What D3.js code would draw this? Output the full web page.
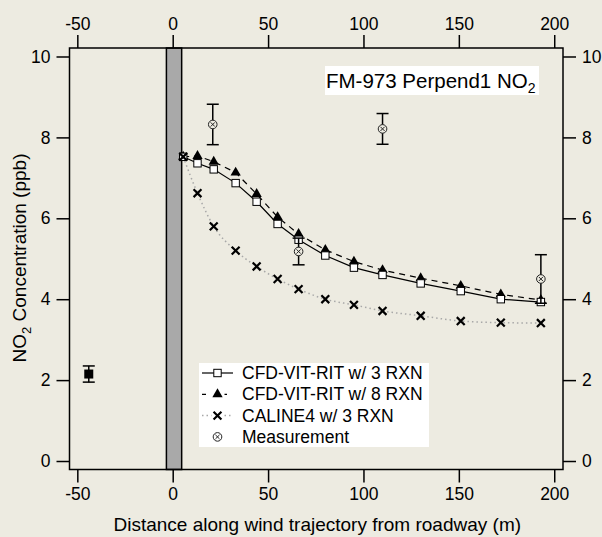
<!DOCTYPE html>
<html lang="en">
<head>
    <meta charset="UTF-8">
    <script src="https://d3js.org/d3.v7.min.js"></script>
    <title>NO2 Perpend1</title>
    <style>
      body{ margin:0; background:#EDEBE1; }
      svg{ display:block; font-family:"Liberation Sans", Arial, sans-serif; }
      .axis path, .axis line{ stroke:#000; stroke-width:1.5px; }
      .axis text{ font-size:17.5px; fill:#000; }
    </style>
</head>
<body>
    <svg id="myGraph" width="602" height="537"></svg>
</body>
<script>
    // distances (m) for model runs
    var distModel = [5.5, 13, 21.5, 33, 44, 55, 66, 80, 95, 110, 130, 151, 172, 193];
    var cfd3 = [7.52, 7.36, 7.21, 6.87, 6.41, 5.86, 5.47, 5.08, 4.78, 4.60, 4.39, 4.20, 4.00, 3.93];
    var cfd8 = [7.52, 7.54, 7.40, 7.13, 6.60, 6.03, 5.61, 5.22, 4.93, 4.72, 4.52, 4.33, 4.12, 3.98];
    var caline = [7.52, 6.62, 5.80, 5.20, 4.81, 4.50, 4.25, 4.00, 3.86, 3.71, 3.59, 3.46, 3.42, 3.41];

    // measurements
    var distMeas = [21, 66, 110, 193];
    var meas = [8.32, 5.18, 8.21, 4.50];
    var measErr = [0.50, 0.33, 0.38, 0.60];
    var upwindDist = [-44];
    var upwind = [2.15];
    var upwindErr = [0.2];

    var roadway = [-3.3, 4.7];
    var xTicks = [-50, 0, 50, 100, 150, 200];
    var yTicks = [0, 2, 4, 6, 8, 10];

    var legendLabels = ["CFD-VIT-RIT w/ 3 RXN", "CFD-VIT-RIT w/ 8 RXN", "CALINE4 w/ 3 RXN", "Measurement"];

    var pLeft = 69.5, pRight = 563, pTop = 48, pBottom = 469.5;

    var xScale = d3.scaleLinear()
    .domain([-54.1, 204.6])
    .range([pLeft, pRight]);
    var yScale = d3.scaleLinear()
    .domain([-0.21, 10.21])
    .range([pBottom, pTop]);

    var svg = d3.select("#myGraph");
    var fmt = function(d){ return String(d); };

    svg.append("rect")
    .attr("width", 602).attr("height", 537)
    .attr("fill", "#EDEBE1");

    // roadway bar
    svg.append("rect")
    .attr("x", xScale(roadway[0]))
    .attr("y", pTop)
    .attr("width", xScale(roadway[1]) - xScale(roadway[0]))
    .attr("height", pBottom - pTop)
    .attr("fill", "#A9A9A9")
    .attr("stroke", "#000")
    .attr("stroke-width", 1.5);

    // axes
    function noDomain(g){ g.select(".domain").remove(); }
    svg.append("g").attr("class","axis")
    .attr("transform","translate(0,"+pBottom+")")
    .call(d3.axisBottom(xScale).tickValues(xTicks).tickFormat(fmt).tickSize(13).tickPadding(5))
    .call(noDomain);
    svg.append("g").attr("class","axis")
    .attr("transform","translate(0,"+pTop+")")
    .call(d3.axisTop(xScale).tickValues(xTicks).tickFormat(fmt).tickSize(13).tickPadding(5))
    .call(noDomain);
    svg.append("g").attr("class","axis")
    .attr("transform","translate("+pLeft+",0)")
    .call(d3.axisLeft(yScale).tickValues(yTicks).tickFormat(fmt).tickSize(13).tickPadding(6))
    .call(noDomain);
    svg.append("g").attr("class","axis")
    .attr("transform","translate("+pRight+",0)")
    .call(d3.axisRight(yScale).tickValues(yTicks).tickFormat(fmt).tickSize(13).tickPadding(6))
    .call(noDomain);

    svg.append("rect")
    .attr("x", pLeft).attr("y", pTop)
    .attr("width", pRight - pLeft).attr("height", pBottom - pTop)
    .attr("fill", "none").attr("stroke", "#000").attr("stroke-width", 1.5);

    // lines
    function pts(ys){ return distModel.map(function(d,i){ return [d, ys[i]]; }); }
    var line = d3.line()
    .x(function(d){ return xScale(d[0]); })
    .y(function(d){ return yScale(d[1]); });

    svg.append("path")
    .attr("d", line.curve(d3.curveMonotoneX)(pts(caline)))
    .attr("fill","none").attr("stroke","#A8A8A8").attr("stroke-width",1.5)
    .attr("stroke-dasharray","1.5,3");
    svg.append("path")
    .attr("d", line.curve(d3.curveLinear)(pts(cfd8)))
    .attr("fill","none").attr("stroke","#000").attr("stroke-width",1.2)
    .attr("stroke-dasharray","6,5");
    svg.append("path")
    .attr("d", line.curve(d3.curveLinear)(pts(cfd3)))
    .attr("fill","none").attr("stroke","#000").attr("stroke-width",1.2);

    // markers
    var tri = d3.symbol().type(d3.symbolTriangle).size(46);
    var cross = d3.symbol().type(d3.symbolX).size(42);

    svg.append("g").selectAll("path")
    .data(pts(cfd8)).enter().append("path")
    .attr("d", tri)
    .attr("transform", function(d){ return "translate("+xScale(d[0])+","+yScale(d[1])+")"; })
    .attr("fill","#000");

    svg.append("g").selectAll("rect")
    .data(pts(cfd3)).enter().append("rect")
    .attr("x", function(d){ return xScale(d[0]) - 3.7; })
    .attr("y", function(d){ return yScale(d[1]) - 3.7; })
    .attr("width", 7.4).attr("height", 7.4)
    .attr("fill","#fff").attr("stroke","#000").attr("stroke-width",1);

    svg.append("g").selectAll("path")
    .data(pts(caline)).enter().append("path")
    .attr("d", cross)
    .attr("transform", function(d){ return "translate("+xScale(d[0])+","+yScale(d[1])+")"; })
    .attr("fill","none").attr("stroke","#000").attr("stroke-width",2.2);

    // measurement error bars
    function errBars(xs, ys, es){
      var g = svg.append("g").attr("stroke","#000").attr("stroke-width",1.5);
      xs.forEach(function(d,i){
        var cx = xScale(d);
        g.append("line").attr("x1",cx).attr("x2",cx)
        .attr("y1",yScale(ys[i]+es[i])).attr("y2",yScale(ys[i]-es[i]));
        [ys[i]+es[i], ys[i]-es[i]].forEach(function(v){
          g.append("line").attr("x1",cx-6).attr("x2",cx+6)
          .attr("y1",yScale(v)).attr("y2",yScale(v));
        });
      });
    }
    errBars(distMeas, meas, measErr);
    errBars(upwindDist, upwind, upwindErr);

    function measMark(g, cx, cy, bg){
      g.append("circle").attr("cx",cx).attr("cy",cy).attr("r",4.3)
      .attr("fill",bg).attr("stroke","#222").attr("stroke-width",1);
      g.append("path").attr("d", d3.symbol().type(d3.symbolX).size(13)())
      .attr("transform","translate("+cx+","+cy+")")
      .attr("stroke","#222").attr("stroke-width",1).attr("fill","none");
    }
    var mg = svg.append("g");
    distMeas.forEach(function(d,i){ measMark(mg, xScale(d), yScale(meas[i]), "#EDEBE1"); });

    svg.append("g").selectAll("rect")
    .data(upwindDist).enter().append("rect")
    .attr("x", function(d){ return xScale(d) - 4.5; })
    .attr("y", function(d,i){ return yScale(upwind[i]) - 4.5; })
    .attr("width", 9).attr("height", 9)
    .attr("fill","#000");

    // title box
    svg.append("rect")
    .attr("x", 325).attr("y", 66).attr("width", 214).attr("height", 29)
    .attr("fill","#fff");
    var title = svg.append("text")
    .attr("x", 326).attr("y", 87.5)
    .attr("font-size", 20.5);
    title.append("tspan").text("FM-973 Perpend1 NO");
    title.append("tspan").text("2").attr("font-size", 14).attr("dy", 5);

    // legend
    var lg = svg.append("g");
    lg.append("rect")
    .attr("x", 199).attr("y", 363).attr("width", 230).attr("height", 84)
    .attr("fill","#fff");
    legendLabels.forEach(function(t,i){
      var ly = 373 + i*21.3;
      var lx0 = 202, lx1 = 233, lm = 217.5;
      if(i == 0){
        lg.append("line").attr("x1",lx0).attr("x2",lx1).attr("y1",ly).attr("y2",ly)
        .attr("stroke","#000").attr("stroke-width",1.2);
        lg.append("rect").attr("x",lm-3.7).attr("y",ly-3.7).attr("width",7.4).attr("height",7.4)
        .attr("fill","#fff").attr("stroke","#000");
      } else if(i == 1){
        lg.append("line").attr("x1",lx0).attr("x2",lx1).attr("y1",ly).attr("y2",ly)
        .attr("stroke","#000").attr("stroke-width",1.2).attr("stroke-dasharray","4,6.5");
        lg.append("rect").attr("x",lm-7).attr("y",ly-3).attr("width",14).attr("height",6).attr("fill","#fff");
        lg.append("path").attr("d",tri).attr("transform","translate("+lm+","+ly+")");
      } else if(i == 2){
        lg.append("line").attr("x1",lx0).attr("x2",lx1).attr("y1",ly).attr("y2",ly)
        .attr("stroke","#A8A8A8").attr("stroke-width",1.5).attr("stroke-dasharray","1.5,3");
        lg.append("rect").attr("x",lm-6).attr("y",ly-5).attr("width",12).attr("height",10).attr("fill","#fff");
        lg.append("path").attr("d",cross).attr("transform","translate("+lm+","+ly+")")
        .attr("stroke","#000").attr("stroke-width",2.2).attr("fill","none");
      } else {
        measMark(lg, lm, ly, "#fff");
      }
      lg.append("text").attr("x", 242).attr("y", ly + 6)
      .attr("font-size", 17.5).text(t);
    });

    // axis titles
    svg.append("text")
    .attr("x", (pLeft + pRight)/2 + 1).attr("y", 531)
    .attr("text-anchor","middle").attr("font-size", 19)
    .text("Distance along wind trajectory from roadway (m)");

    var yt = svg.append("text")
    .attr("transform","translate(26,"+ 258 +") rotate(-90)")
    .attr("text-anchor","middle").attr("font-size", 19);
    yt.append("tspan").text("NO");
    yt.append("tspan").text("2").attr("font-size", 13).attr("dy", 5);
    yt.append("tspan").text(" Concentration (ppb)").attr("dy", -5);
</script>
</html>
